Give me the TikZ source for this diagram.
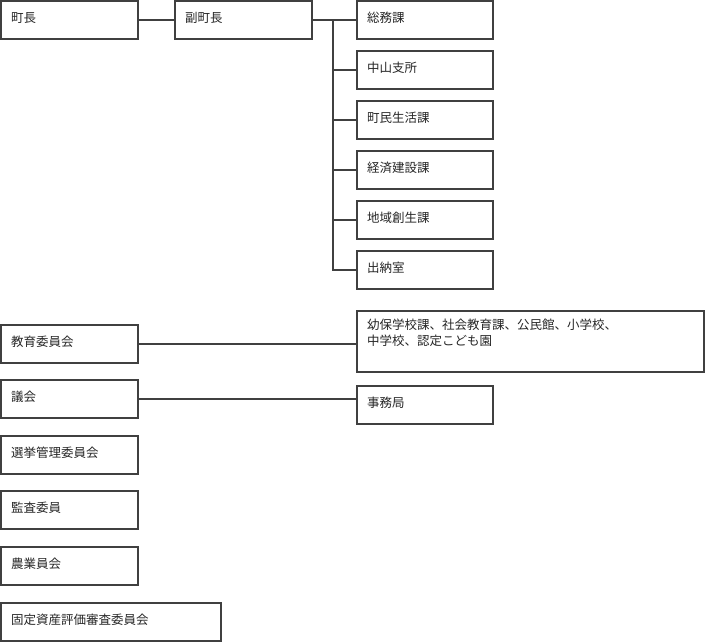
\documentclass[tikz,border=0pt]{standalone}
\usepackage{fontspec}
\setmainfont{Noto Sans CJK JP}
\begin{document}
\begin{tikzpicture}[x=1pt,y=-1pt,
  bx/.style={draw=black!75,line width=1.6pt},
  ln/.style={draw=black!75,line width=1.6pt},
  tx/.style={anchor=west,inner sep=0pt,font=\fontsize{12.5}{16}\selectfont,text=black!85}]
\useasboundingbox (0,0) rectangle (706,642);
\newcommand\ob[6]{\draw[bx] (#2,#3) rectangle (#4,#5); \coordinate (#1w) at (#2,{(#3+#5)/2}); \coordinate (#1e) at (#4,{(#3+#5)/2}); \node[tx] (#1t) at ({#2+10},{#3+17}) {#6};}
\ob{a}{1}{1}{138}{39}{町長}
\ob{b}{175}{1}{312}{39}{副町長}
\ob{c1}{357}{1}{493}{39}{総務課}
\ob{c2}{357}{51}{493}{89}{中山支所}
\ob{c3}{357}{101}{493}{139}{町民生活課}
\ob{c4}{357}{151}{493}{189}{経済建設課}
\ob{c5}{357}{201}{493}{239}{地域創生課}
\ob{c6}{357}{251}{493}{289}{出納室}
\ob{d}{1}{325}{138}{363}{教育委員会}
\draw[bx] (357,311) rectangle (704,372);
\coordinate (ew) at (357,344);
\node[tx,align=left,anchor=north west] (et) at (367,319) {幼保学校課、社会教育課、公民館、小学校、\\中学校、認定こども園};
\ob{f}{1}{380}{138}{418}{議会}
\ob{g}{357}{386}{493}{424}{事務局}
\ob{h}{1}{436}{138}{474}{選挙管理委員会}
\ob{i}{1}{491}{138}{529}{監査委員}
\ob{j}{1}{547}{138}{585}{農業員会}
\ob{k}{1}{603}{221}{641}{固定資産評価審査委員会}
\coordinate (bus) at (333,20);
\draw[ln] (ae) -- (bw);
\draw[ln] (be) -- (c1w);
\draw[ln] (bus) -- (bus |- c6w) -- (c6w);
\foreach \n in {c2,c3,c4,c5} \draw[ln] (bus |- \n w) -- (\n w);
\draw[ln] (de) -- (de -| ew) ;
\draw[ln] (fe) -- (fe -| gw);
\end{tikzpicture}
\end{document}
